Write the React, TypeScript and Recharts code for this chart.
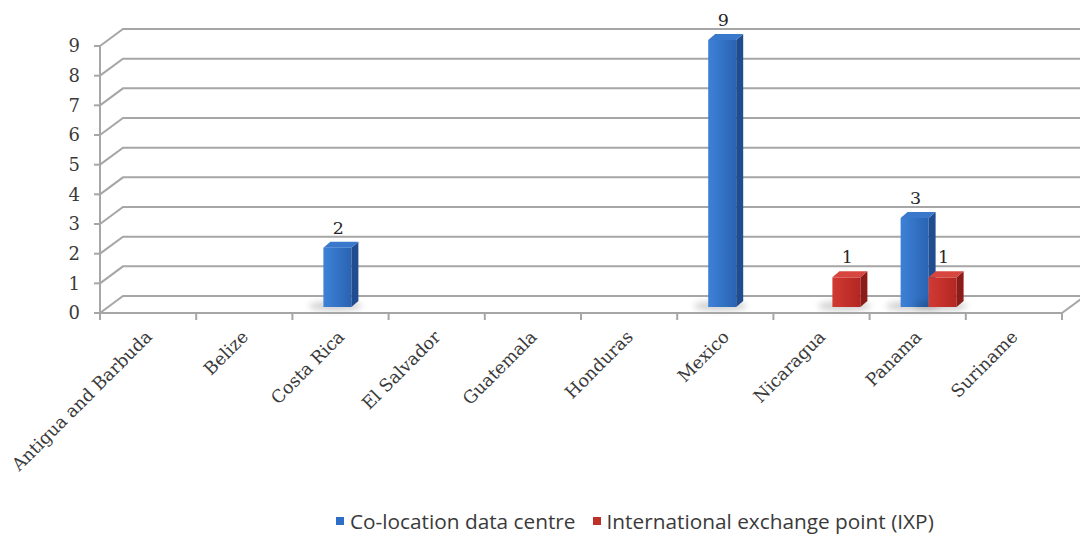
import { BarChart, Bar, XAxis, YAxis, CartesianGrid, LabelList } from "recharts";

const countries = [
  "Antigua and Barbuda",
  "Belize",
  "Costa Rica",
  "El Salvador",
  "Guatemala",
  "Honduras",
  "Mexico",
  "Nicaragua",
  "Panama",
  "Suriname",
];
const colocation = [0, 0, 2, 0, 0, 0, 9, 0, 3, 0];
const ixp = [0, 0, 0, 0, 0, 0, 0, 1, 1, 0];
const yTicks = [0, 1, 2, 3, 4, 5, 6, 7, 8, 9];

const seriesNames = ["Co-location data centre", "International exchange point (IXP)"];

const data = countries.map((name, i) => ({ name, colocation: colocation[i], ixp: ixp[i] }));

const W = 1080;
const H = 538;
const Y_AXIS_W = 40;
const X_AXIS_H = 120;
const margin = { top: 46, right: 18, bottom: 105, left: 60 };
const plotLeft = margin.left + Y_AXIS_W;
const plotBottom = H - margin.bottom - X_AXIS_H;
const band = (W - plotLeft - margin.right) / countries.length;

// depth of the 3d walls
const DX = 23;
const DY = 17;
// bars sit halfway in the depth
const SX = 11;
const SY = 6;
// bar thickness
const BDX = 7;
const BDY = 6;

const gridColor = "#a6a6a6";
const textColor = "#3a3a3a";
const serif = "'DejaVu Serif', serif";

function Bar3D(props: any) {
  const { x, y, width, height, front, side, top } = props;
  if (!height || height <= 0) return null;
  const fx = x + SX;
  const fy = y - SY;
  return (
    <g>
      <ellipse
        cx={fx + width / 2 - 2}
        cy={fy + height - 1}
        rx={width * 0.95}
        ry={5}
        fill="#000"
        opacity={0.18}
        filter="url(#shadowBlur)"
      />
      <rect x={fx} y={fy} width={width} height={height} fill={`url(#${front})`} />
      <polygon
        points={`${fx + width},${fy} ${fx + width + BDX},${fy - BDY} ${fx + width + BDX},${fy + height - BDY} ${fx + width},${fy + height}`}
        fill={side}
      />
      <polygon
        points={`${fx},${fy} ${fx + BDX},${fy - BDY} ${fx + width + BDX},${fy - BDY} ${fx + width},${fy}`}
        fill={top}
      />
    </g>
  );
}

function valueLabel(p: any) {
  const { x, y, width, value } = p;
  if (!value) return null;
  return (
    <text
      x={x + width / 2 + SX + 1}
      y={y - 20}
      textAnchor="middle"
      fontFamily={serif}
      fontSize={17.5}
      fill="#262626"
    >
      {value}
    </text>
  );
}

function XTick(props: any) {
  const { x, payload, index } = props;
  return (
    <g>
      <line x1={x - band / 2} y1={plotBottom} x2={x - band / 2} y2={plotBottom + 7} stroke={gridColor} strokeWidth={2} />
      {index === countries.length - 1 && (
        <line x1={x + band / 2} y1={plotBottom} x2={x + band / 2} y2={plotBottom + 7} stroke={gridColor} strokeWidth={2} />
      )}
      <text
        x={x + 5}
        y={plotBottom + 25}
        transform={`rotate(-45, ${x + 5}, ${plotBottom + 25})`}
        textAnchor="end"
        fontFamily={serif}
        fontSize={17.5}
        fill={textColor}
      >
        {payload.value}
      </text>
    </g>
  );
}

function gridLine(p: any) {
  const { x1, y1, x2 } = p;
  const d = `M${x1},${y1} L${x1 + DX},${y1 - DY} L${x2 + 40},${y1 - DY}`;
  const floor = Math.abs(y1 - plotBottom) < 1;
  return (
    <g key={`g-${y1}`}>
      <path d={d} fill="none" stroke={gridColor} strokeWidth={2} />
      {floor && (
        <path d={`M${x2},${y1} L${x2 + DX},${y1 - DY}`} fill="none" stroke={gridColor} strokeWidth={2} />
      )}
    </g>
  );
}

function LegendBox() {
  const item = (color: string, label: string, gap: number) => (
    <div style={{ display: "flex", alignItems: "center", marginRight: gap }}>
      <div style={{ width: 8, height: 8, background: color, marginRight: 6 }} />
      <span>{label}</span>
    </div>
  );
  return (
    <div
      style={{
        position: "absolute",
        left: 336,
        top: 507,
        display: "flex",
        fontFamily: "'Open Sans', sans-serif",
        fontSize: 20.8,
        lineHeight: "28px",
        color: textColor,
        whiteSpace: "nowrap",
      }}
    >
      {item("#2f6ec6", seriesNames[0], 17)}
      {item("#c0302b", seriesNames[1], 0)}
    </div>
  );
}

export default function App() {
  return (
    <div style={{ position: "absolute", left: 0, top: 0, width: W, height: H, background: "#fff" }}>
      <BarChart width={W} height={H} data={data} margin={margin} barSize={28} barGap={0}>
        <defs>
          <linearGradient id="gBlue" x1="0" y1="0" x2="1" y2="0">
            <stop offset="0%" stopColor="#3d82d8" />
            <stop offset="100%" stopColor="#2a63b2" />
          </linearGradient>
          <linearGradient id="gRed" x1="0" y1="0" x2="1" y2="0">
            <stop offset="0%" stopColor="#d23a33" />
            <stop offset="100%" stopColor="#b32622" />
          </linearGradient>
          <filter id="shadowBlur" x="-50%" y="-200%" width="200%" height="500%">
            <feGaussianBlur stdDeviation="3" />
          </filter>
        </defs>
        <CartesianGrid vertical={false} horizontal={gridLine} />
        <XAxis
          dataKey="name"
          height={X_AXIS_H}
          interval={0}
          tickLine={false}
          axisLine={{ stroke: gridColor, strokeWidth: 2 }}
          tick={<XTick />}
        />
        <YAxis
          width={Y_AXIS_W}
          domain={[0, 9]}
          ticks={yTicks}
          interval={0}
          tickSize={6}
          tickMargin={14}
          axisLine={{ stroke: gridColor, strokeWidth: 2 }}
          tickLine={{ stroke: gridColor, strokeWidth: 2 }}
          tick={{ fontFamily: serif, fontSize: 18, fill: textColor }}
        />
        <Bar
          dataKey="colocation"
          name={seriesNames[0]}
          isAnimationActive={false}
          fill="#2f6ec6"
          shape={(p: any) => <Bar3D {...p} front="gBlue" side="#1f4d8f" top="#3a78cc" />}
        >
          <LabelList dataKey="colocation" content={valueLabel} />
        </Bar>
        <Bar
          dataKey="ixp"
          name={seriesNames[1]}
          isAnimationActive={false}
          fill="#c0302b"
          shape={(p: any) => <Bar3D {...p} front="gRed" side="#8c1c19" top="#d6463f" />}
        >
          <LabelList dataKey="ixp" content={valueLabel} />
        </Bar>
      </BarChart>
      <LegendBox />
    </div>
  );
}
